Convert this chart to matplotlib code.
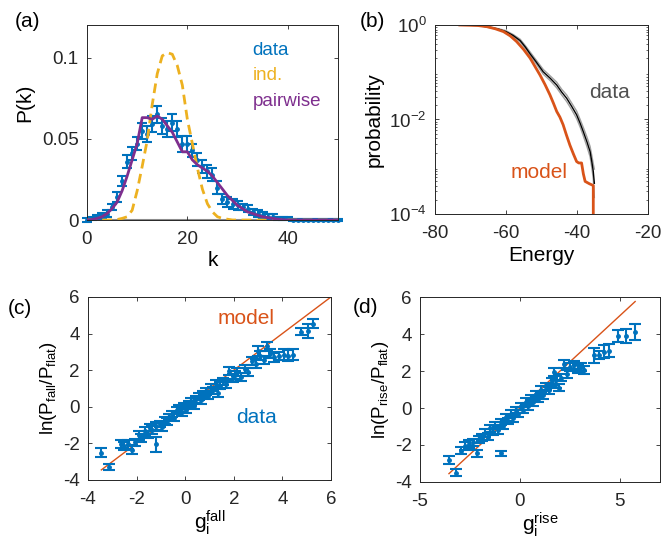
import numpy as np
import matplotlib
matplotlib.use('Agg')
import matplotlib.pyplot as plt

plt.rcParams['font.family'] = ['Liberation Sans', 'DejaVu Sans']
plt.rcParams['mathtext.default'] = 'regular'
plt.rcParams['axes.unicode_minus'] = False
plt.rcParams['axes.edgecolor'] = '#262626'
plt.rcParams['xtick.color'] = '#262626'
plt.rcParams['ytick.color'] = '#262626'

BLUE = '#0072BD'
ORANGE = '#D95319'
YELLOW = '#EDB120'
PURPLE = '#7E2F8E'

# (a) distribution of k
k = list(range(0, 51))
pk_data = [0.000, 0.001, 0.002, 0.003, 0.004, 0.008, 0.014, 0.024, 0.036, 0.041,
           0.047, 0.055, 0.053, 0.059, 0.065, 0.058, 0.056, 0.060, 0.056, 0.047,
           0.047, 0.043, 0.037, 0.033, 0.030, 0.028, 0.020, 0.013, 0.011, 0.010,
           0.009, 0.008, 0.007, 0.005, 0.004, 0.003, 0.002, 0.002, 0.001, 0.001,
           0.001, 0.000, 0.000, 0.000, 0.000, 0.000, 0.000, 0.000, 0.000, 0.000, 0.000]
pk_err = [0.001, 0.001, 0.0012, 0.0015, 0.002, 0.002, 0.003, 0.003, 0.004, 0.004,
          0.004, 0.005, 0.005, 0.005, 0.005, 0.005, 0.005, 0.005, 0.005, 0.005,
          0.005, 0.004, 0.004, 0.004, 0.004, 0.004, 0.004, 0.003, 0.003, 0.003,
          0.003, 0.002, 0.002, 0.002, 0.002, 0.002, 0.0015, 0.0015, 0.001, 0.001,
          0.001, 0.0005, 0.0005, 0.0005, 0.0005, 0.0005, 0.0005, 0.0005, 0.0005, 0.0005, 0.0005]
pk_ind = [0, 0, 0, 0, 0, 0.0001, 0.0003, 0.001, 0.002, 0.006,
          0.018, 0.033, 0.049, 0.071, 0.090, 0.101, 0.103, 0.102, 0.095, 0.083,
          0.062, 0.047, 0.032, 0.019, 0.010, 0.005, 0.002, 0.001, 0.0005, 0,
          0, 0, 0, 0, 0, 0, 0, 0, 0, 0,
          0, 0, 0, 0, 0, 0, 0, 0, 0, 0, 0]
pk_pair = [0.000, 0.0003, 0.001, 0.002, 0.004, 0.007, 0.011, 0.018, 0.027, 0.037,
           0.047, 0.063, 0.063, 0.062, 0.064, 0.062, 0.058, 0.054, 0.048, 0.042,
           0.042, 0.037, 0.034, 0.032, 0.030, 0.027, 0.023, 0.019, 0.015, 0.012,
           0.009, 0.007, 0.005, 0.004, 0.003, 0.002, 0.0015, 0.001, 0.0005, 0.0002,
           0, 0, 0, 0, 0, 0, 0, 0, 0, 0, 0]

# (b) energy survival curves (log10 probability)
model_E = [-73, -68, -65.4, -63, -60.7, -58.8, -57, -55, -53.2, -51.8, -50.4, -49,
           -47.6, -46.6, -45.7, -44.8, -43.9, -43, -42, -41, -40.1, -39.5, -38.7,
           -38.2, -37.7, -36.5, -35.9, -35.4, -35.4]
model_logp = [0, -0.01, -0.035, -0.08, -0.14, -0.23, -0.35, -0.52, -0.70, -0.88, -1.06,
              -1.26, -1.48, -1.66, -1.83, -1.95, -2.11, -2.32, -2.54, -2.73, -2.89,
              -2.92, -2.92, -3.15, -3.31, -3.36, -3.38, -3.40, -4.1]
data_E = [-73, -68, -65, -62, -60, -58, -56, -54.5, -53.2, -51.5, -49.5, -47.5, -45.7,
          -44.3, -42.9, -41.5, -40.1, -39.1, -38.2, -37.2, -36.3, -35.8, -35.4, -35.1]
data_logp = [0, -0.01, -0.04, -0.09, -0.14, -0.22, -0.33, -0.47, -0.61, -0.78, -0.99,
             -1.13, -1.27, -1.42, -1.55, -1.72, -1.90, -2.08, -2.26, -2.47, -2.68,
             -2.90, -3.10, -3.35]
data_band = [0, 0, 0.01, 0.01, 0.02, 0.02, 0.03, 0.03, 0.04, 0.04, 0.05, 0.05, 0.06,
             0.06, 0.07, 0.07, 0.08, 0.08, 0.09, 0.10, 0.11, 0.13, 0.16, 0.30]

# (c) fall
gfall = [-3.45, -3.12, -2.65, -2.50, -2.35, -2.20, -2.05, -1.90, -1.80, -1.65, -1.55,
         -1.45, -1.35, -1.20, -1.20, -1.05, -0.95, -0.85, -0.75, -0.65, -0.55, -0.45,
         -0.35, -0.25, -0.15, -0.05, 0.05, 0.15, 0.25, 0.35, 0.45, 0.55, 0.65, 0.75,
         0.85, 0.95, 1.05, 1.15, 1.25, 1.35, 1.45, 1.55, 1.70, 1.80, 1.95, 2.05, 2.15,
         2.30, 2.45, 2.60, 2.75, 2.90, 3.00, 3.10, 3.25, 3.35, 3.50, 3.65, 3.85, 4.05,
         4.25, 4.45, 4.75, 5.05, 5.25]
lnfall = [-2.50, -3.28, -2.05, -2.15, -2.05, -2.35, -1.95, -1.55, -1.70, -1.35, -1.50,
          -1.15, -1.25, -2.05, -1.05, -0.95, -1.10, -0.75, -0.80, -0.55, -0.40, -0.60,
          -0.20, -0.10, -0.30, 0.05, -0.15, 0.15, 0.30, 0.05, 0.40, 0.55, 0.35, 0.70,
          0.85, 0.60, 1.05, 0.90, 1.25, 0.75, 1.15, 1.40, 1.25, 1.95, 1.55, 1.75, 1.90,
          1.65, 2.05, 1.90, 2.50, 2.35, 3.05, 2.80, 2.55, 3.30, 2.90, 2.70, 2.75, 2.85,
          2.80, 2.85, 4.10, 4.15, 4.55]
errfall = [0.25, 0.15, 0.22, 0.20, 0.25, 0.25, 0.20, 0.25, 0.20, 0.22, 0.20, 0.20, 0.22,
           0.42, 0.20, 0.18, 0.20, 0.18, 0.20, 0.18, 0.18, 0.20, 0.18, 0.18, 0.18, 0.18,
           0.18, 0.18, 0.18, 0.18, 0.18, 0.18, 0.20, 0.18, 0.20, 0.20, 0.20, 0.20, 0.20,
           0.20, 0.20, 0.20, 0.22, 0.22, 0.22, 0.22, 0.22, 0.22, 0.22, 0.22, 0.22, 0.25,
           0.28, 0.25, 0.22, 0.25, 0.25, 0.25, 0.22, 0.30, 0.30, 0.30, 0.20, 0.40, 0.25]
fall_line = [-3.45, 6.0]

# (d) rise
grise = [-3.55, -3.20, -2.95, -2.75, -2.55, -2.35, -2.15, -2.05, -1.90, -1.75, -1.60,
         -1.50, -1.35, -1.25, -1.10, -0.95, -0.95, -0.85, -0.70, -0.60, -0.45, -0.35,
         -0.20, -0.10, 0.05, 0.15, 0.30, 0.40, 0.55, 0.65, 0.80, 0.90, 1.05, 1.15, 1.30,
         1.45, 1.60, 1.70, 1.80, 1.95, 2.05, 2.20, 2.35, 2.50, 2.70, 2.90, 3.05, 3.20,
         3.70, 3.95, 4.20, 4.45, 4.90, 5.30, 5.75]
lnrise = [-2.80, -3.50, -2.30, -2.05, -1.95, -1.85, -2.45, -1.70, -1.60, -1.35, -1.55,
          -1.10, -1.30, -0.95, -1.20, -2.45, -0.75, -0.95, -0.50, -0.70, -0.30, -0.55,
          -0.10, -0.30, 0.10, -0.10, 0.35, 0.10, 0.55, 0.30, 0.75, 0.50, 1.00, 0.70, 1.15,
          0.95, 1.45, 1.95, 1.30, 1.10, 1.65, 2.40, 1.85, 2.20, 2.35, 2.10, 2.20, 2.05,
          2.85, 2.85, 3.05, 3.10, 3.90, 3.90, 4.10]
errrise = [0.22, 0.18, 0.20, 0.20, 0.22, 0.20, 0.18, 0.20, 0.20, 0.20, 0.20, 0.20, 0.18,
           0.18, 0.18, 0.15, 0.18, 0.18, 0.18, 0.18, 0.18, 0.18, 0.18, 0.18, 0.18, 0.18,
           0.18, 0.18, 0.18, 0.18, 0.18, 0.18, 0.18, 0.20, 0.20, 0.20, 0.20, 0.20, 0.20,
           0.20, 0.20, 0.22, 0.22, 0.22, 0.22, 0.22, 0.22, 0.22, 0.40, 0.22, 0.35, 0.35,
           0.33, 0.38, 0.42]
rise_line = [-3.55, 5.76]

TICK = 13.5
LAB = 15

fig = plt.figure(figsize=(6.62, 5.39), dpi=100)


def style(ax):
    ax.tick_params(direction='in', top=True, right=True, labelsize=TICK,
                   length=3, width=0.6)
    ax.tick_params(axis='x', pad=8)
    ax.tick_params(axis='y', pad=6)
    for s in ax.spines.values():
        s.set_linewidth(0.7)


# panel a
ax = fig.add_axes([0.1314, 0.5918, 0.379, 0.3618])
ax.errorbar(k, pk_data, yerr=pk_err, fmt='.', color=BLUE, ms=5, elinewidth=1.5,
            capsize=3.6, capthick=1.5, zorder=2, clip_on=False)
ax.plot(k, pk_ind, '--', color=YELLOW, lw=2, dashes=(3.5, 2), zorder=3)
ax.plot(k, pk_pair, '-', color=PURPLE, lw=2, zorder=4)
ax.axhline(0, color='#8c8c8c', lw=1.5, zorder=1)
ax.set_xlim(0, 50)
ax.set_ylim(0, 0.12)
ax.set_xticks([0, 20, 40])
ax.set_yticks([0, 0.05, 0.1])
ax.set_yticklabels(['0', '0.05', '0.1'])
style(ax)
ax.set_xlabel('k', fontsize=LAB, labelpad=2)
ax.set_ylabel('P(k)', fontsize=LAB)
ax.yaxis.set_label_coords(-0.21, 0.6)
ax.text(0.66, 0.87, 'data', color=BLUE, fontsize=TICK, transform=ax.transAxes, va='center')
ax.text(0.66, 0.74, 'ind.', color=YELLOW, fontsize=TICK, transform=ax.transAxes, va='center')
ax.text(0.66, 0.61, 'pairwise', color=PURPLE, fontsize=TICK, transform=ax.transAxes, va='center')
fig.text(0.023, 0.96, '(a)', fontsize=LAB, va='center')

# panel b
ax = fig.add_axes([0.657, 0.603, 0.3218, 0.3506])
dE = np.array(data_E)
dl = np.array(data_logp)
db = np.array(data_band)
ax.plot(dE, 10 ** (dl + db), color='#a0a0a0', lw=1)
ax.plot(dE, 10 ** (dl - db), color='#a0a0a0', lw=1)
ax.plot(dE, 10 ** dl, color='black', lw=1)
ax.plot(model_E, 10 ** np.array(model_logp), color=ORANGE, lw=2)
ax.set_yscale('log')
ax.set_xlim(-80, -20)
ax.set_ylim(1e-4, 1)
ax.set_xticks([-80, -60, -40, -20])
ax.set_yticks([1e-4, 1e-2, 1])
ax.set_yticklabels(['$10^{-4}$', '$10^{-2}$', '$10^{0}$'])
style(ax)
ax.tick_params(which='minor', direction='in', right=True, length=1.5, width=0.5)
ax.set_xlabel('Energy', fontsize=LAB, labelpad=3)
ax.set_ylabel('probability', fontsize=LAB)
ax.text(-30.7, 0.038, 'data', color='#505050', fontsize=LAB, ha='center', va='center')
ax.text(-50.8, 7.4e-4, 'model', color=ORANGE, fontsize=LAB, ha='center', va='center')
fig.text(0.543, 0.96, '(b)', fontsize=LAB, va='center')

# panel c
ax = fig.add_axes([0.1329, 0.1095, 0.367, 0.3395])
ax.plot(fall_line, fall_line, color=ORANGE, lw=1)
ax.errorbar(gfall, lnfall, yerr=errfall, fmt='.', color=BLUE, ms=5, elinewidth=1.5,
            capsize=4.5, capthick=1.5)
ax.set_xlim(-4, 6)
ax.set_ylim(-4, 6)
ax.set_xticks([-4, -2, 0, 2, 4, 6])
ax.set_yticks([-4, -2, 0, 2, 4, 6])
style(ax)
ax.set_xlabel('$g_i^{fall}$', fontsize=LAB, labelpad=0)
ax.set_ylabel('ln(P$_{fall}$/P$_{flat}$)', fontsize=13.5, labelpad=3)
ax.text(1.35, 4.85, 'model', color=ORANGE, fontsize=LAB, va='center')
ax.text(2.1, -0.6, 'data', color=BLUE, fontsize=LAB, va='center')
fig.text(0.012, 0.427, '(c)', fontsize=LAB, va='center')

# panel d
ax = fig.add_axes([0.6344, 0.1058, 0.3625, 0.343])
ax.plot(rise_line, rise_line, color=ORANGE, lw=1)
ax.errorbar(grise, lnrise, yerr=errrise, fmt='.', color=BLUE, ms=5, elinewidth=1.5,
            capsize=4.5, capthick=1.5)
ax.set_xlim(-5, 7)
ax.set_ylim(-4, 6)
ax.set_xticks([-5, 0, 5])
ax.set_yticks([-4, -2, 0, 2, 4, 6])
style(ax)
ax.set_xlabel('$g_i^{rise}$', fontsize=LAB, labelpad=0)
ax.set_ylabel('ln(P$_{rise}$/P$_{flat}$)', fontsize=13.5, labelpad=3)
fig.text(0.533, 0.43, '(d)', fontsize=LAB, va='center')

fig.savefig('out.png', dpi=100)
